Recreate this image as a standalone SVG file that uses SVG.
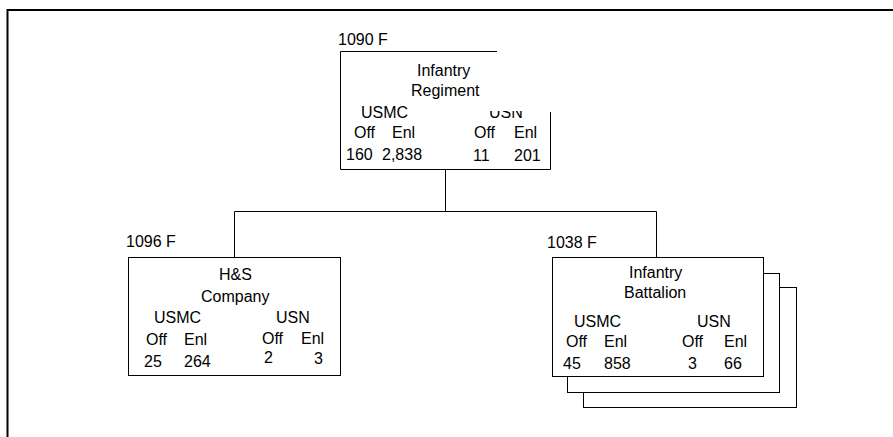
<svg xmlns="http://www.w3.org/2000/svg" width="893" height="437" viewBox="0 0 893 437">
<style>
text{font-family:"Liberation Sans",Arial,sans-serif;font-size:16px;fill:#000}
.box{fill:#fff;stroke:#000;stroke-width:1}
.con{fill:none;stroke:#000;stroke-width:1}
.frame{fill:none;stroke:#000;stroke-width:2}
</style>
<defs>
<clipPath id="usnclip"><rect x="480" y="111" width="60" height="20"/></clipPath>
</defs>
<rect width="893" height="437" fill="#fff"/>
<path class="frame" d="M7.5,437 V10 H893"/>
<g id="connectors">
<path class="con" d="M445.5,169 V211.5 M234.5,211.5 H656.5 M234.5,211.5 V257 M656.5,211.5 V257"/>
</g>
<g id="regiment">
<path class="box" style="fill:none" d="M497,51.5 H340.5 V169.5 H550.5 V112"/>
<text x="338" y="45">1090 F</text>
<text x="417" y="76">Infantry</text>
<text x="411" y="96">Regiment</text>
<text x="361" y="118">USMC</text>
<text x="489" y="118" clip-path="url(#usnclip)">USN</text>
<text x="354" y="138">Off</text>
<text x="392" y="138">Enl</text>
<text x="474" y="138">Off</text>
<text x="514" y="138">Enl</text>
<text x="346" y="160">160</text>
<text x="382" y="160">2,838</text>
<text x="473" y="161">11</text>
<text x="514" y="161">201</text>
</g>
<g id="hs-company">
<rect class="box" x="128.5" y="257.5" width="212" height="118"/>
<text x="126" y="247">1096 F</text>
<text x="219" y="280">H&amp;S</text>
<text x="201" y="302">Company</text>
<text x="154" y="323">USMC</text>
<text x="276" y="323">USN</text>
<text x="146" y="345">Off</text>
<text x="184" y="345">Enl</text>
<text x="262" y="344">Off</text>
<text x="301" y="344">Enl</text>
<text x="144" y="367">25</text>
<text x="184" y="367">264</text>
<text x="264" y="363">2</text>
<text x="314" y="364">3</text>
</g>
<g id="infantry-battalion">
<rect class="box" x="583.5" y="287.5" width="213" height="120"/>
<rect class="box" x="567.5" y="273.5" width="212" height="119"/>
<rect class="box" x="552.5" y="257.5" width="211" height="119"/>
<text x="547" y="248">1038 F</text>
<text x="629" y="278">Infantry</text>
<text x="624" y="298">Battalion</text>
<text x="574" y="327">USMC</text>
<text x="697" y="327">USN</text>
<text x="566" y="347">Off</text>
<text x="604" y="347">Enl</text>
<text x="682" y="347">Off</text>
<text x="724" y="347">Enl</text>
<text x="563" y="369">45</text>
<text x="604" y="369">858</text>
<text x="688" y="369">3</text>
<text x="724" y="369">66</text>
</g>
</svg>
